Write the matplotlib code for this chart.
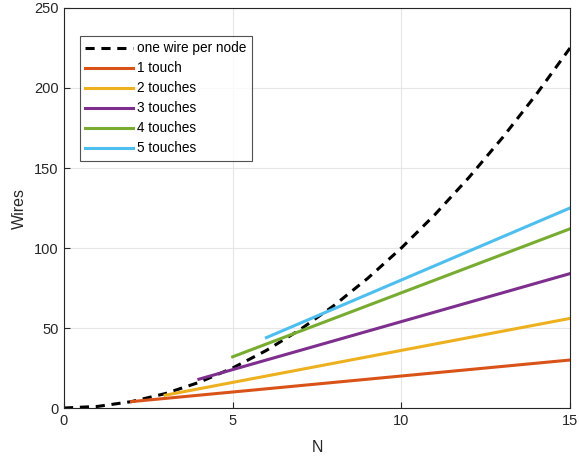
import matplotlib
matplotlib.use('Agg')
import matplotlib.pyplot as plt

# one wire per node curve, read at integer N
n_full = [0, 1, 2, 3, 4, 5, 6, 7, 8, 9, 10, 11, 12, 13, 14, 15]
wires_full = [0, 1, 4, 9, 16, 25, 36, 49, 64, 81, 100, 121, 144, 169, 196, 225]

# touch lines: (start N, end N), (start wires, end wires)
touch_labels = ['1 touch', '2 touches', '3 touches', '4 touches', '5 touches']
touch_n = [(2, 15), (3, 15), (4, 15), (5, 15), (6, 15)]
touch_wires = [(4, 30), (8, 56), (18, 84), (32, 112), (44, 125)]
touch_colors = ['#D95319', '#EDB120', '#7E2F8E', '#77AC30', '#4DBEEE']

plt.rcParams['font.family'] = ['Liberation Sans', 'DejaVu Sans']

fig = plt.figure(figsize=(5.79, 4.57), dpi=100)
ax = fig.add_axes([0.1105, 0.1072, 0.8740, 0.8753])

ax.plot(n_full, wires_full, color='k', lw=2.2, ls=(0, (3, 2.2)), label='one wire per node')
for lab, xs, ys, c in zip(touch_labels, touch_n, touch_wires, touch_colors):
    ax.plot(xs, ys, color=c, lw=2.2, label=lab)

ax.set_xlim(0, 15)
ax.set_ylim(0, 250)
ax.set_xticks([0, 5, 10, 15])
ax.set_yticks([0, 50, 100, 150, 200, 250])
ax.grid(True, color='#e6e6e6', lw=0.8)
ax.set_axisbelow(True)
ax.tick_params(direction='in', labelsize=10.5, colors='#262626', length=4, pad=4)
for s in ax.spines.values():
    s.set_color('#262626')
    s.set_linewidth(0.8)
ax.set_xlabel('N', fontsize=11.5, color='#262626', labelpad=9)
ax.set_ylabel('Wires', fontsize=11.5, color='#262626', labelpad=5)

leg = ax.legend(loc='upper left', bbox_to_anchor=(0.031, 0.93), fontsize=9.8,
                frameon=True, fancybox=False, handlelength=3.5, handletextpad=0.3,
                borderpad=0.4, labelspacing=0.44, borderaxespad=0)
leg.get_frame().set_edgecolor('#262626')
leg.get_frame().set_linewidth(0.8)

fig.savefig('out.png', dpi=100)
